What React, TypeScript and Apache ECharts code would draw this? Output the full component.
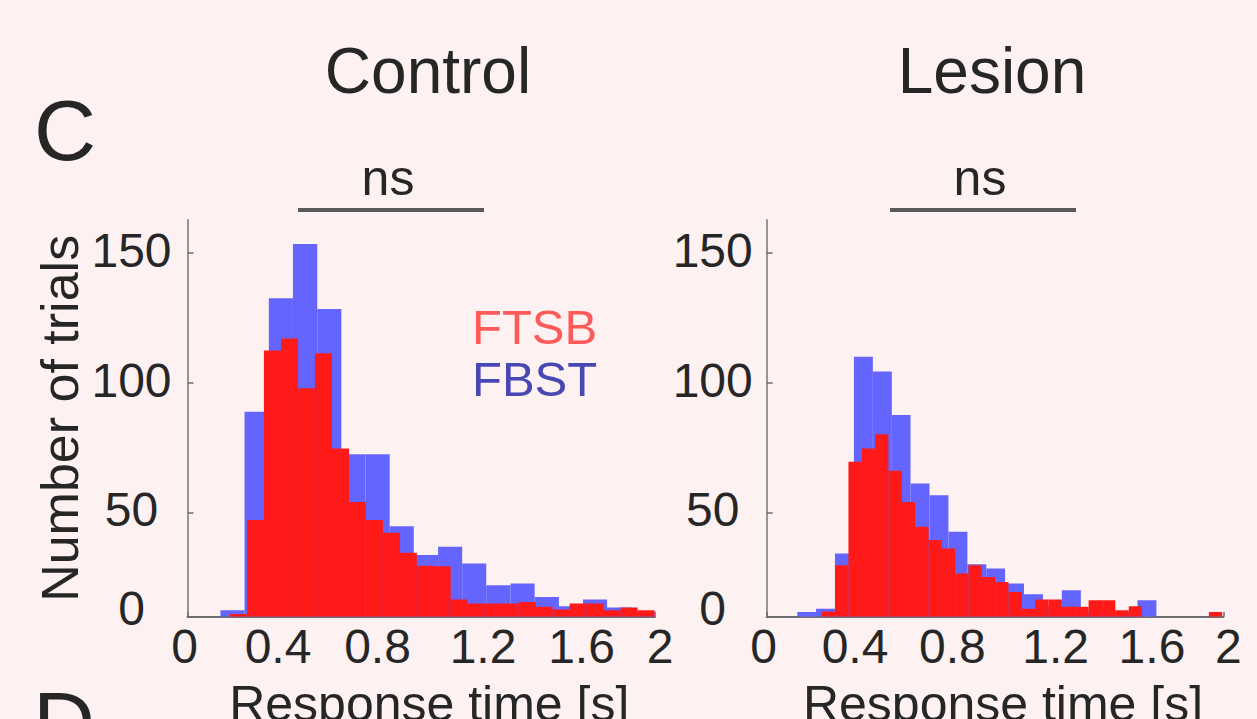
import React, { useEffect, useRef } from 'react';
import * as echarts from 'echarts';

// ---- data (response time in s, counts read on the tick scale; baseline is labelled "0") ----
const BASELINE = 10;
const yTickValues = [10, 50, 100, 150];
const yTickLabels = ['0', '50', '100', '150'];
const xTickValues = [0, 0.4, 0.8, 1.2, 1.6, 2];

// Control, FBST (blue)
const ctrlBlueEdges = [0.141, 0.244, 0.348, 0.451, 0.555, 0.658, 0.761, 0.865, 0.968, 1.072, 1.175, 1.278, 1.382, 1.485, 1.589, 1.692, 1.795, 1.899, 2.0];
const ctrlBlueCounts = [12.5, 88.9, 132.7, 153.6, 128.5, 72.6, 72.6, 44.8, 33.8, 36.9, 30.5, 22.1, 22.8, 17.6, 14, 16.6, 13.5, 11.5];
// Control, FTSB (red)
const ctrlRedEdges = [0.182, 0.255, 0.327, 0.4, 0.473, 0.545, 0.618, 0.691, 0.763, 0.836, 0.909, 0.981, 1.054, 1.126, 1.199, 1.272, 1.344, 1.417, 1.49, 1.562, 1.635, 1.708, 1.78, 1.853, 1.926, 1.998];
const ctrlRedCounts = [11, 47.2, 112.5, 117.2, 98, 111.5, 74.8, 54.2, 47.2, 42.3, 34.6, 29.6, 29.4, 16.6, 15.1, 15.1, 15.1, 15.7, 13.8, 12.8, 15.1, 15.1, 12.5, 13.5, 12.5];
// Lesion, FBST (blue)
const lesBlueEdges = [0.134, 0.216, 0.299, 0.382, 0.465, 0.548, 0.63, 0.713, 0.796, 0.879, 0.962, 1.044, 1.127, 1.21, 1.293, 1.376, 1.458, 1.541, 1.624, 1.707];
const lesBlueCounts = [11.8, 13.1, 34.3, 110.1, 104.4, 87.7, 61.3, 56.8, 42.7, 30.2, 28.6, 22.8, 18.6, 14, 20.2, 12, 12, 11.5, 16.3];
// Lesion, FTSB (red)
const lesRedEdges = [0.241, 0.299, 0.358, 0.416, 0.475, 0.533, 0.592, 0.65, 0.709, 0.767, 0.826, 0.884, 0.942, 1.001, 1.059, 1.118, 1.176, 1.235, 1.293, 1.352, 1.41, 1.469, 1.527, 1.586, 1.644, 1.703, 1.761, 1.82, 1.878, 1.937, 1.995];
const lesRedCounts = [12, 29.8, 69.7, 74.8, 80.3, 66.2, 54.2, 44.6, 39.5, 36.3, 26.6, 29.8, 25.3, 23.4, 19.5, 13.1, 16.6, 16.6, 13.8, 13.8, 16.3, 16.3, 12.5, 14, 10, 10, 10, 10, 10, 11.8];

const panelTitles = ['Control', 'Lesion'];
const sigLabels = ['ns', 'ns'];

const FONT = '"Liberation Sans", Arial, Helvetica, sans-serif';
const TEXT = '#262626';
const BLUE = '#6464ff';
const RED = '#ff1a1a';
const BG = '#fdf1f1';

function toBins(edges: number[], counts: number[]) {
  return counts.map((c, i) => [edges[i], edges[i + 1], c]);
}

function histSeries(name: string, edges: number[], counts: number[], color: string, idx: number) {
  return {
    type: 'custom',
    name,
    xAxisIndex: idx,
    yAxisIndex: idx,
    data: toBins(edges, counts),
    encode: { x: [0, 1], y: 2 },
    clip: true,
    itemStyle: { color },
    renderItem: (_params: any, api: any) => {
      const p0 = api.coord([api.value(0), api.value(2)]);
      const p1 = api.coord([api.value(1), BASELINE]);
      return {
        type: 'rect',
        shape: { x: p0[0], y: p0[1], width: p1[0] - p0[0], height: p1[1] - p0[1] },
        style: { fill: color },
      };
    },
  };
}

const xShift: Record<string, string> = { '0': 'm3', '0.4': 'm3', '0.8': 'p3', '1.2': 'p15', '1.6': 'p20', '2': 'p5' };

function richStyle(pad: number[]) {
  return { fontSize: 48, lineHeight: 48, fontFamily: FONT, color: TEXT, padding: pad };
}

function xAxisCfg(gridIndex: number) {
  return {
    type: 'value',
    gridIndex,
    min: 0,
    max: 2,
    interval: 0.4,
    name: 'Response time [s]',
    nameLocation: 'middle',
    nameGap: 62,
    nameTextStyle: { fontSize: 50, fontFamily: FONT, color: TEXT, padding: [0, 0, 0, 16] },
    axisLine: { show: true, onZero: false, lineStyle: { color: '#6e6e6e', width: 2 } },
    axisTick: { show: true, inside: true, length: 5, lineStyle: { color: '#6e6e6e', width: 1.5 }, customValues: xTickValues },
    splitLine: { show: false },
    axisLabel: {
      margin: 6,
      customValues: xTickValues,
      formatter: (v: number) => {
        const s = String(Math.round(v * 10) / 10);
        return `{${xShift[s] || 'p0'}|${s}}`;
      },
      rich: {
        p0: richStyle([0, 0, 0, 0]),
        m3: richStyle([0, 6, 0, 0]),
        p3: richStyle([0, 0, 0, 6]),
        p5: richStyle([0, 0, 0, 10]),
        p15: richStyle([0, 0, 0, 30]),
        p20: richStyle([0, 0, 0, 40]),
      },
    },
  };
}

function yAxisCfg(gridIndex: number, margin: number, withName: boolean) {
  return {
    type: 'value',
    gridIndex,
    min: BASELINE,
    max: 162.8,
    name: withName ? 'Number of trials' : '',
    nameLocation: 'middle',
    nameGap: 102,
    nameTextStyle: { fontSize: 52, fontFamily: FONT, color: TEXT },
    axisLine: { show: true, lineStyle: { color: '#959595', width: 2 } },
    axisTick: { show: true, inside: true, length: 6, lineStyle: { color: '#6e6e6e', width: 1.5 }, customValues: yTickValues },
    splitLine: { show: false },
    axisLabel: {
      margin,
      align: 'center',
      customValues: yTickValues,
      formatter: (v: number) => {
        const i = yTickValues.indexOf(v);
        const s = i >= 0 ? yTickLabels[i] : String(v);
        return i === 0 ? `{z|${s}}` : `{n|${s}}`;
      },
      rich: {
        z: richStyle([0, 0, 16, 0]),
        n: richStyle([0, 0, 6, 0]),
      },
    },
  };
}

export default function App() {
  const ref = useRef<HTMLDivElement>(null);

  useEffect(() => {
    if (!ref.current) return;
    const chart = echarts.init(ref.current, undefined, { renderer: 'svg' });
    const txt = (text: string, x: number, y: number, size: number, extra: any = {}) => ({
      type: 'text',
      x,
      y,
      style: { text, fontSize: size, fontFamily: FONT, fill: TEXT, textAlign: 'center', textVerticalAlign: 'middle', ...extra },
    });
    chart.setOption({
      animation: false,
      backgroundColor: BG,
      grid: [
        { left: 187.5, top: 220, width: 467.5, height: 396.7, outerBoundsMode: 'none', containLabel: false },
        { left: 766.7, top: 220, width: 456.6, height: 396.7, outerBoundsMode: 'none', containLabel: false },
      ],
      xAxis: [xAxisCfg(0), xAxisCfg(1)],
      yAxis: [yAxisCfg(0, 56, true), yAxisCfg(1, 54, false)],
      legend: {
        data: [
          { name: 'FTSB', textStyle: { color: '#ff5a5a' } },
          { name: 'FBST', textStyle: { color: '#4848b4' } },
        ],
        orient: 'vertical',
        left: 462,
        top: 297,
        itemWidth: 0,
        itemHeight: 0,
        itemGap: 3,
        selectedMode: false,
        textStyle: { fontSize: 49, lineHeight: 49, fontFamily: FONT },
      },
      graphic: [
        txt('C', 65, 130, 86),
        txt('D', 64, 722, 86),
        txt(panelTitles[0], 428, 71, 64),
        txt(panelTitles[1], 992, 71, 64),
        txt(sigLabels[0], 388, 178, 50),
        txt(sigLabels[1], 980, 178, 50),
        { type: 'line', shape: { x1: 298, y1: 210, x2: 484, y2: 210 }, style: { stroke: '#5a5a5a', lineWidth: 4 } },
        { type: 'line', shape: { x1: 890, y1: 210, x2: 1076, y2: 210 }, style: { stroke: '#5a5a5a', lineWidth: 4 } },
      ],
      series: [
        histSeries('FBST', ctrlBlueEdges, ctrlBlueCounts, BLUE, 0),
        histSeries('FTSB', ctrlRedEdges, ctrlRedCounts, RED, 0),
        histSeries('FBST', lesBlueEdges, lesBlueCounts, BLUE, 1),
        histSeries('FTSB', lesRedEdges, lesRedCounts, RED, 1),
      ],
    });
    return () => chart.dispose();
  }, []);

  return (
    <div
      ref={ref}
      style={{ position: 'fixed', left: 0, top: 0, width: '1257px', height: '719px', background: BG }}
    />
  );
}
